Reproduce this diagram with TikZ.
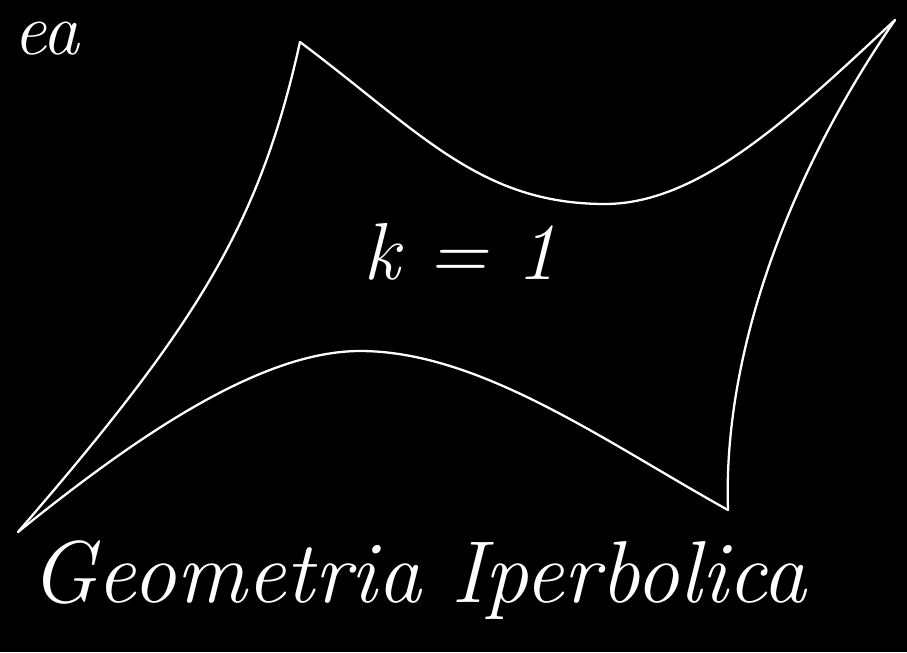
\documentclass[tikz,border=0pt]{standalone}
\usepackage{tikz}
\usetikzlibrary{positioning}

\begin{document}
\begin{tikzpicture}[sideline/.style={draw=white,line width=1.3pt,line join=round,line cap=round}]
\fill[black] (0,0) rectangle (18.14,13.04);
\useasboundingbox (0,0) rectangle (18.14,13.04);
\coordinate (tl) at (6.00,12.20);
\coordinate (tr) at (17.90,12.64);
\coordinate (br) at (14.56,2.84);
\coordinate (bl) at (0.36,2.40);
\coordinate (topmin) at (12.10,8.96);
\coordinate (botmax) at (7.20,6.02);
\draw[sideline] (tl) .. controls (8.4,10.4) and (9.6,8.96) .. (topmin);
\draw[sideline] (topmin) .. controls (14.0,8.96) and (15.85,10.73) .. (tr);
\draw[sideline] (tr) .. controls (15.8,9.6) and (14.45,6.0) .. (br);
\draw[sideline] (br) .. controls (12.11,4.20) and (9.6,6.02) .. (botmax);
\draw[sideline] (botmax) .. controls (5.2,6.02) and (2.70,4.29) .. (bl);
\draw[sideline] (bl) .. controls (4.0,6.6) and (5.2,8.6) .. (tl);
\node[text=white,font=\fontsize{46}{50}\selectfont\itshape,inner sep=0pt] (curv) at (9.20,8.00) {k = 1};
\node[text=white,font=\fontsize{42}{46}\selectfont\itshape,inner sep=0pt,anchor=base east] (cut) at (1.60,11.95) {ea};
\node[text=white,font=\fontsize{50}{54}\selectfont\itshape,inner sep=0pt,anchor=base west] (title) at (0.60,1.00) {Geometria Iperbolica};
\end{tikzpicture}
\end{document}
